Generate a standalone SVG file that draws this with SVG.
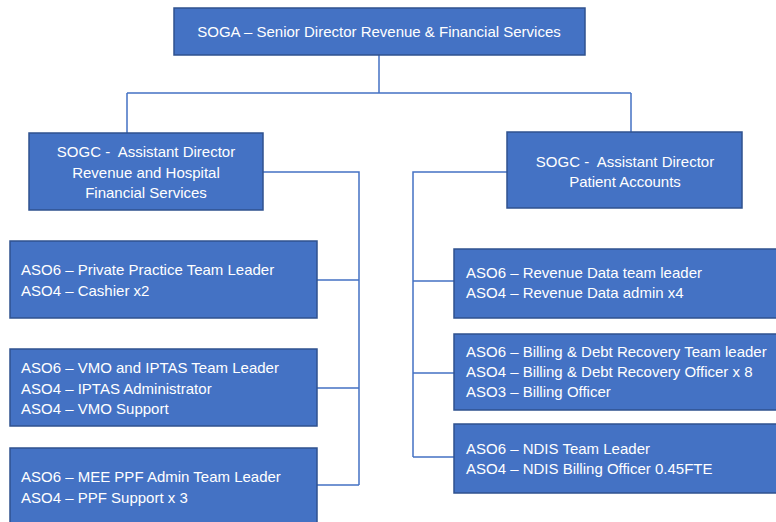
<svg xmlns="http://www.w3.org/2000/svg" width="776" height="522" viewBox="0 0 776 522">
  <style>
    .box { fill: #4472C4; stroke: #2F528F; stroke-width: 1.5; }
    .lbl { fill: #FFFFFF; font-family: "Liberation Sans", Arial, sans-serif; font-size: 15px; white-space: pre; }
    .mid { text-anchor: middle; }
    .wire { fill: none; stroke: #4472C4; stroke-width: 1.5; }
  </style>
  <rect width="776" height="522" fill="#FFFFFF"/>

  <g id="connectors">
    <path class="wire" d="M379,55 V93 M127,93 H631 M127,93 V133 M631,93 V132"/>
    <path class="wire" d="M263,172 H359 V485 M317,280 H359 M317,388 H359 M317,485 H359"/>
    <path class="wire" d="M507,172 H413 V457 M454,281 H413 M454,373 H413 M454,457 H413"/>
  </g>

  <g id="soga">
    <rect class="box" x="174" y="8" width="411" height="47"/>
    <text class="lbl mid" x="379" y="37">SOGA – Senior Director Revenue &amp; Financial Services</text>
  </g>

  <g id="sogc-hospital">
    <rect class="box" x="29" y="133" width="234" height="77"/>
    <text class="lbl mid" x="146" y="157" xml:space="preserve">SOGC -  Assistant Director</text>
    <text class="lbl mid" x="146" y="178">Revenue and Hospital</text>
    <text class="lbl mid" x="146" y="198">Financial Services</text>
  </g>

  <g id="private-practice">
    <rect class="box" x="10" y="241" width="307" height="77"/>
    <text class="lbl" x="21" y="275">ASO6 – Private Practice Team Leader</text>
    <text class="lbl" x="21" y="296">ASO4 – Cashier x2</text>
  </g>

  <g id="vmo-iptas">
    <rect class="box" x="10" y="349" width="307" height="77"/>
    <text class="lbl" x="21" y="373">ASO6 – VMO and IPTAS Team Leader</text>
    <text class="lbl" x="21" y="394">ASO4 – IPTAS Administrator</text>
    <text class="lbl" x="21" y="414">ASO4 – VMO Support</text>
  </g>

  <g id="mee-ppf">
    <rect class="box" x="10" y="448" width="307" height="80"/>
    <text class="lbl" x="21" y="482">ASO6 – MEE PPF Admin Team Leader</text>
    <text class="lbl" x="21" y="503">ASO4 – PPF Support x 3</text>
  </g>

  <g id="sogc-patient">
    <rect class="box" x="507" y="132" width="235" height="76"/>
    <text class="lbl mid" x="625" y="167" xml:space="preserve">SOGC -  Assistant Director</text>
    <text class="lbl mid" x="625" y="187">Patient Accounts</text>
  </g>

  <g id="revenue-data">
    <rect class="box" x="454" y="249" width="325" height="69"/>
    <text class="lbl" x="466" y="278">ASO6 – Revenue Data team leader</text>
    <text class="lbl" x="466" y="298">ASO4 – Revenue Data admin x4</text>
  </g>

  <g id="billing-debt">
    <rect class="box" x="454" y="334" width="325" height="76"/>
    <text class="lbl" x="466" y="357">ASO6 – Billing &amp; Debt Recovery Team leader</text>
    <text class="lbl" x="466" y="377">ASO4 – Billing &amp; Debt Recovery Officer x 8</text>
    <text class="lbl" x="466" y="397">ASO3 – Billing Officer</text>
  </g>

  <g id="ndis">
    <rect class="box" x="454" y="424" width="325" height="69"/>
    <text class="lbl" x="466" y="454">ASO6 – NDIS Team Leader</text>
    <text class="lbl" x="466" y="474">ASO4 – NDIS Billing Officer 0.45FTE</text>
  </g>
</svg>
